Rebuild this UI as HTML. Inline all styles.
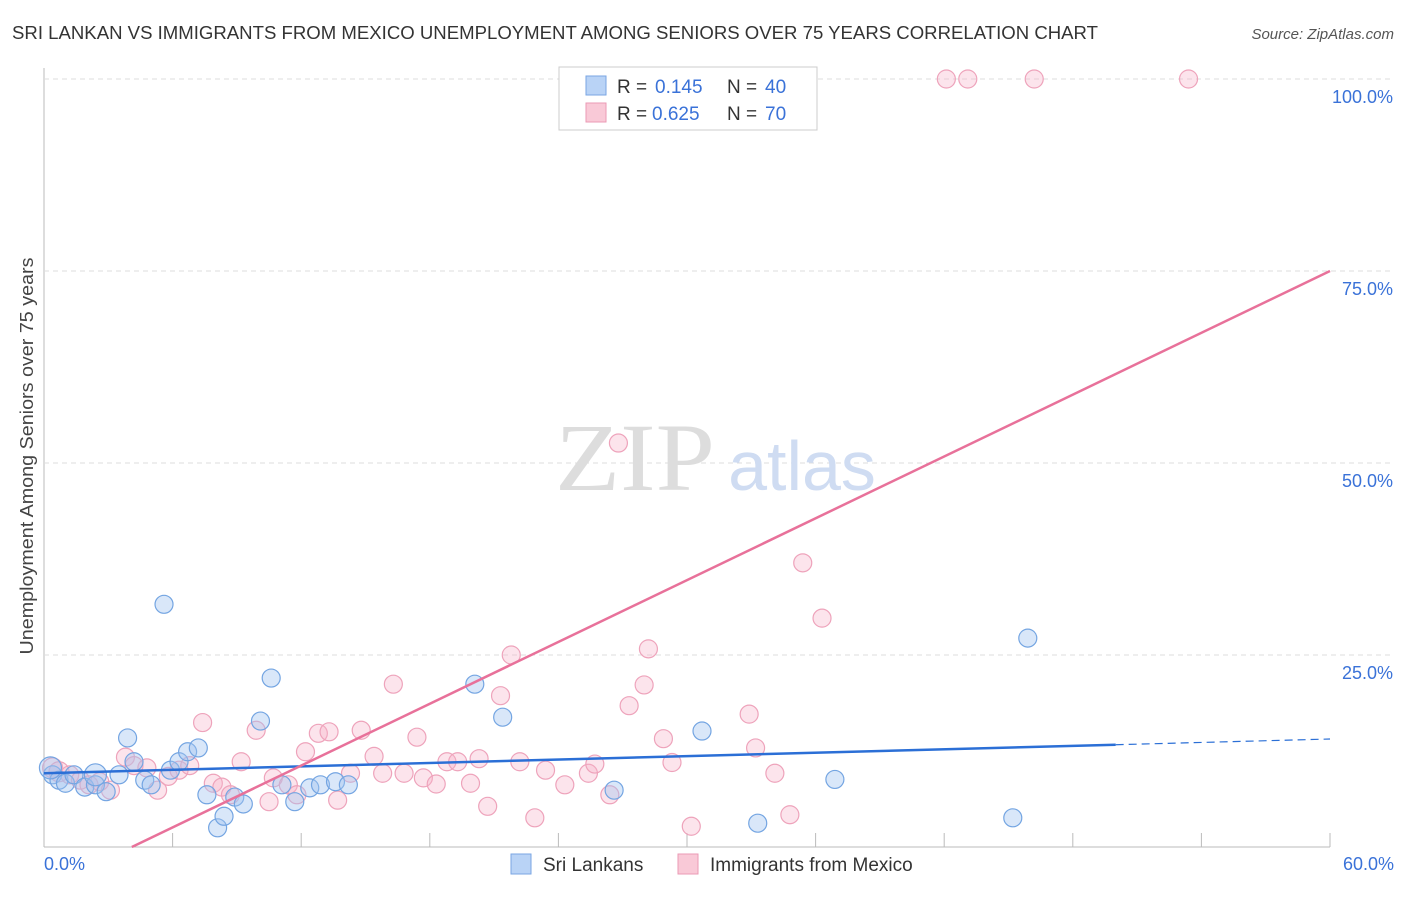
<!DOCTYPE html>
<html><head><meta charset="utf-8"><style>
body{margin:0;background:#fff;font-family:"Liberation Sans",sans-serif}
</style></head><body>
<svg id="c" width="1406" height="892" viewBox="0 0 1406 892" xmlns="http://www.w3.org/2000/svg" font-family="Liberation Sans, sans-serif">
<text x="12" y="39" font-size="18" fill="#333" textLength="1086" lengthAdjust="spacingAndGlyphs">SRI LANKAN VS IMMIGRANTS FROM MEXICO UNEMPLOYMENT AMONG SENIORS OVER 75 YEARS CORRELATION CHART</text>
<text x="1394" y="39" font-size="15" fill="#555" font-style="italic" text-anchor="end">Source: ZipAtlas.com</text>
<text x="0" y="0" transform="translate(33,456) rotate(-90)" font-size="18" fill="#444" text-anchor="middle" textLength="397" lengthAdjust="spacingAndGlyphs">Unemployment Among Seniors over 75 years</text>
<g id="grid"></g>
<text x="635" y="490" font-size="96" fill="#ddd" style="font-family:'Liberation Serif',serif" text-anchor="middle" textLength="160" lengthAdjust="spacingAndGlyphs">ZIP</text>
<text x="802" y="490" font-size="70" fill="#cfdcf2" text-anchor="middle">atlas</text>
<g id="pts"></g>
<g id="lines"></g>
<g>
<rect x="559" y="67" width="258" height="63" fill="#fff" stroke="#ccc"/>
<rect x="586" y="76" width="20" height="19" fill="#b9d3f6" stroke="#7aa6e3"/>
<rect x="586" y="103" width="20" height="19" fill="#f9c9d7" stroke="#eb9ab4"/>
<text x="617" y="93" font-size="19" fill="#333">R =</text>
<text x="655" y="93" font-size="19" fill="#3a72d8">0.145</text>
<text x="727" y="93" font-size="19" fill="#333">N =</text>
<text x="765" y="93" font-size="19" fill="#3a72d8">40</text>
<text x="617" y="120" font-size="19" fill="#333">R =</text>
<text x="652" y="120" font-size="19" fill="#3a72d8">0.625</text>
<text x="727" y="120" font-size="19" fill="#333">N =</text>
<text x="765" y="120" font-size="19" fill="#3a72d8">70</text>
</g>
<g>
<rect x="511" y="854" width="20" height="20" fill="#b9d3f6" stroke="#7aa6e3"/>
<text x="543" y="871" font-size="19" fill="#333">Sri Lankans</text>
<rect x="678" y="854" width="20" height="20" fill="#f9c9d7" stroke="#eb9ab4"/>
<text x="710" y="871" font-size="19" fill="#333">Immigrants from Mexico</text>
</g>
</svg>
<script>
const xTicks=[0,6,12,18,24,30,36,42,48,54,60];
const yTicks=[25,50,75,100];
const blueX=[0.4,0.7,1.0,1.4,1.9,2.4,2.9,3.5,3.9,4.2,4.7,5.0,5.6,5.9,6.3,6.7,7.2,7.6,8.1,8.4,8.9,9.3,10.1,10.6,11.1,11.7,12.4,12.9,13.6,14.2,20.1,21.4,26.6,30.7,33.3,36.9,45.2,45.9,0.3,2.4];
const blueY=[9.4,8.7,8.3,9.4,7.8,8.1,7.2,9.4,14.2,11.1,8.7,8.1,31.6,10.0,11.1,12.4,12.9,6.8,2.5,4.0,6.5,5.6,16.4,22.0,8.1,5.9,7.7,8.1,8.5,8.1,21.2,16.9,7.4,15.1,3.1,8.8,3.8,27.2,10.3,9.4];
const pinkX=[0.4,0.7,1.2,1.7,2.1,2.6,3.1,3.8,4.2,4.8,5.3,5.8,6.3,6.8,7.4,7.9,8.3,8.7,9.2,9.9,10.5,10.7,11.4,11.8,12.2,12.8,13.3,13.7,14.3,14.8,15.4,15.8,16.3,16.8,17.4,17.7,18.3,18.8,19.3,19.9,20.3,20.7,21.3,21.8,22.2,22.9,23.4,24.3,25.4,25.7,26.4,26.8,27.3,28.0,28.2,28.9,29.3,30.2,32.9,33.2,34.1,34.8,35.4,36.3,42.1,43.1,46.2,53.4,30.1,31.6];
const pinkY=[10.3,9.8,9.4,8.7,8.1,8.5,7.4,11.7,10.6,10.3,7.4,9.2,10.0,10.6,16.2,8.3,7.8,6.8,11.1,15.2,5.9,9.0,8.1,6.8,12.4,14.8,15.0,6.1,9.6,15.2,11.8,9.6,21.2,9.6,14.3,9.0,8.2,11.1,11.1,8.3,11.5,5.3,19.7,25.0,11.1,3.8,10.0,8.1,9.6,10.8,6.8,52.6,18.4,21.1,25.8,14.1,11.0,2.7,17.3,12.9,9.6,4.2,37.0,29.8,100,100,100,100,100,100];
const X=v=>44+v/60*1286, Y=v=>847-v/100*768;
const NS='http://www.w3.org/2000/svg';
function mk(t,a,p){const e=document.createElementNS(NS,t);for(const k in a)e.setAttribute(k,a[k]);p.appendChild(e);return e;}
const grid=document.getElementById('grid');
mk('line',{x1:44,y1:68,x2:44,y2:847,stroke:'#bbb'},grid);
mk('line',{x1:44,y1:847,x2:1330,y2:847,stroke:'#bbb'},grid);
yTicks.forEach(t=>{
 const l=mk('line',{x1:44,y1:Y(t),x2:1394,y2:Y(t),stroke:'#ddd','stroke-dasharray':'5,4'},grid);
 
 
 const tx=mk('text',{x:1393,y:Y(t)+24,'font-size':18,fill:'#3a72d8','text-anchor':'end'},grid);
 tx.textContent=t.toFixed(1)+'%';
 
 
});
xTicks.forEach((t,i)=>{
 if(i>0){const l=mk('line',{x1:X(t),y1:833,x2:X(t),y2:847,stroke:'#bbb'},grid);
 
 }
});
[[0,'start',44],[60,'end',1394]].forEach(([t,a,x])=>{
 const tx=mk('text',{x:x,y:870,'font-size':18,fill:'#3a72d8','text-anchor':a},grid);
 tx.textContent=t.toFixed(1)+'%';
 
 
});
const pts=document.getElementById('pts');
pinkX.forEach((v,i)=>{
 const c=mk('circle',{cx:X(v),cy:Y(pinkY[i]),r:i<2?10:9,fill:'rgba(246,178,200,0.35)',stroke:'#eea3bb','stroke-width':1.2},pts);
 
 
});
blueX.forEach((v,i)=>{
 const c=mk('circle',{cx:X(v),cy:Y(blueY[i]),r:i>=38?11:9,fill:'rgba(160,196,240,0.4)',stroke:'#74a5e2','stroke-width':1.2},pts);
 
 
});
const blueFit=[9.6,14.06], pinkFit=[-5.5,75];
const ln=document.getElementById('lines');
const by=x=>blueFit[0]+(blueFit[1]-blueFit[0])*x/60;
let l=mk('line',{x1:X(0),y1:Y(by(0)),x2:X(50),y2:Y(by(50)),stroke:'#2b6fd6','stroke-width':2.5},ln);


l=mk('line',{x1:X(50),y1:Y(by(50)),x2:X(60),y2:Y(by(60)),stroke:'#2b6fd6','stroke-width':1.2,'stroke-dasharray':'8,5'},ln);


const py=x=>pinkFit[0]+(pinkFit[1]-pinkFit[0])*x/60;
const x0=-pinkFit[0]/((pinkFit[1]-pinkFit[0])/60);
l=mk('line',{x1:X(x0),y1:Y(0),x2:X(60),y2:Y(py(60)),stroke:'#e8719a','stroke-width':2.5},ln);


</script>
</body></html>
